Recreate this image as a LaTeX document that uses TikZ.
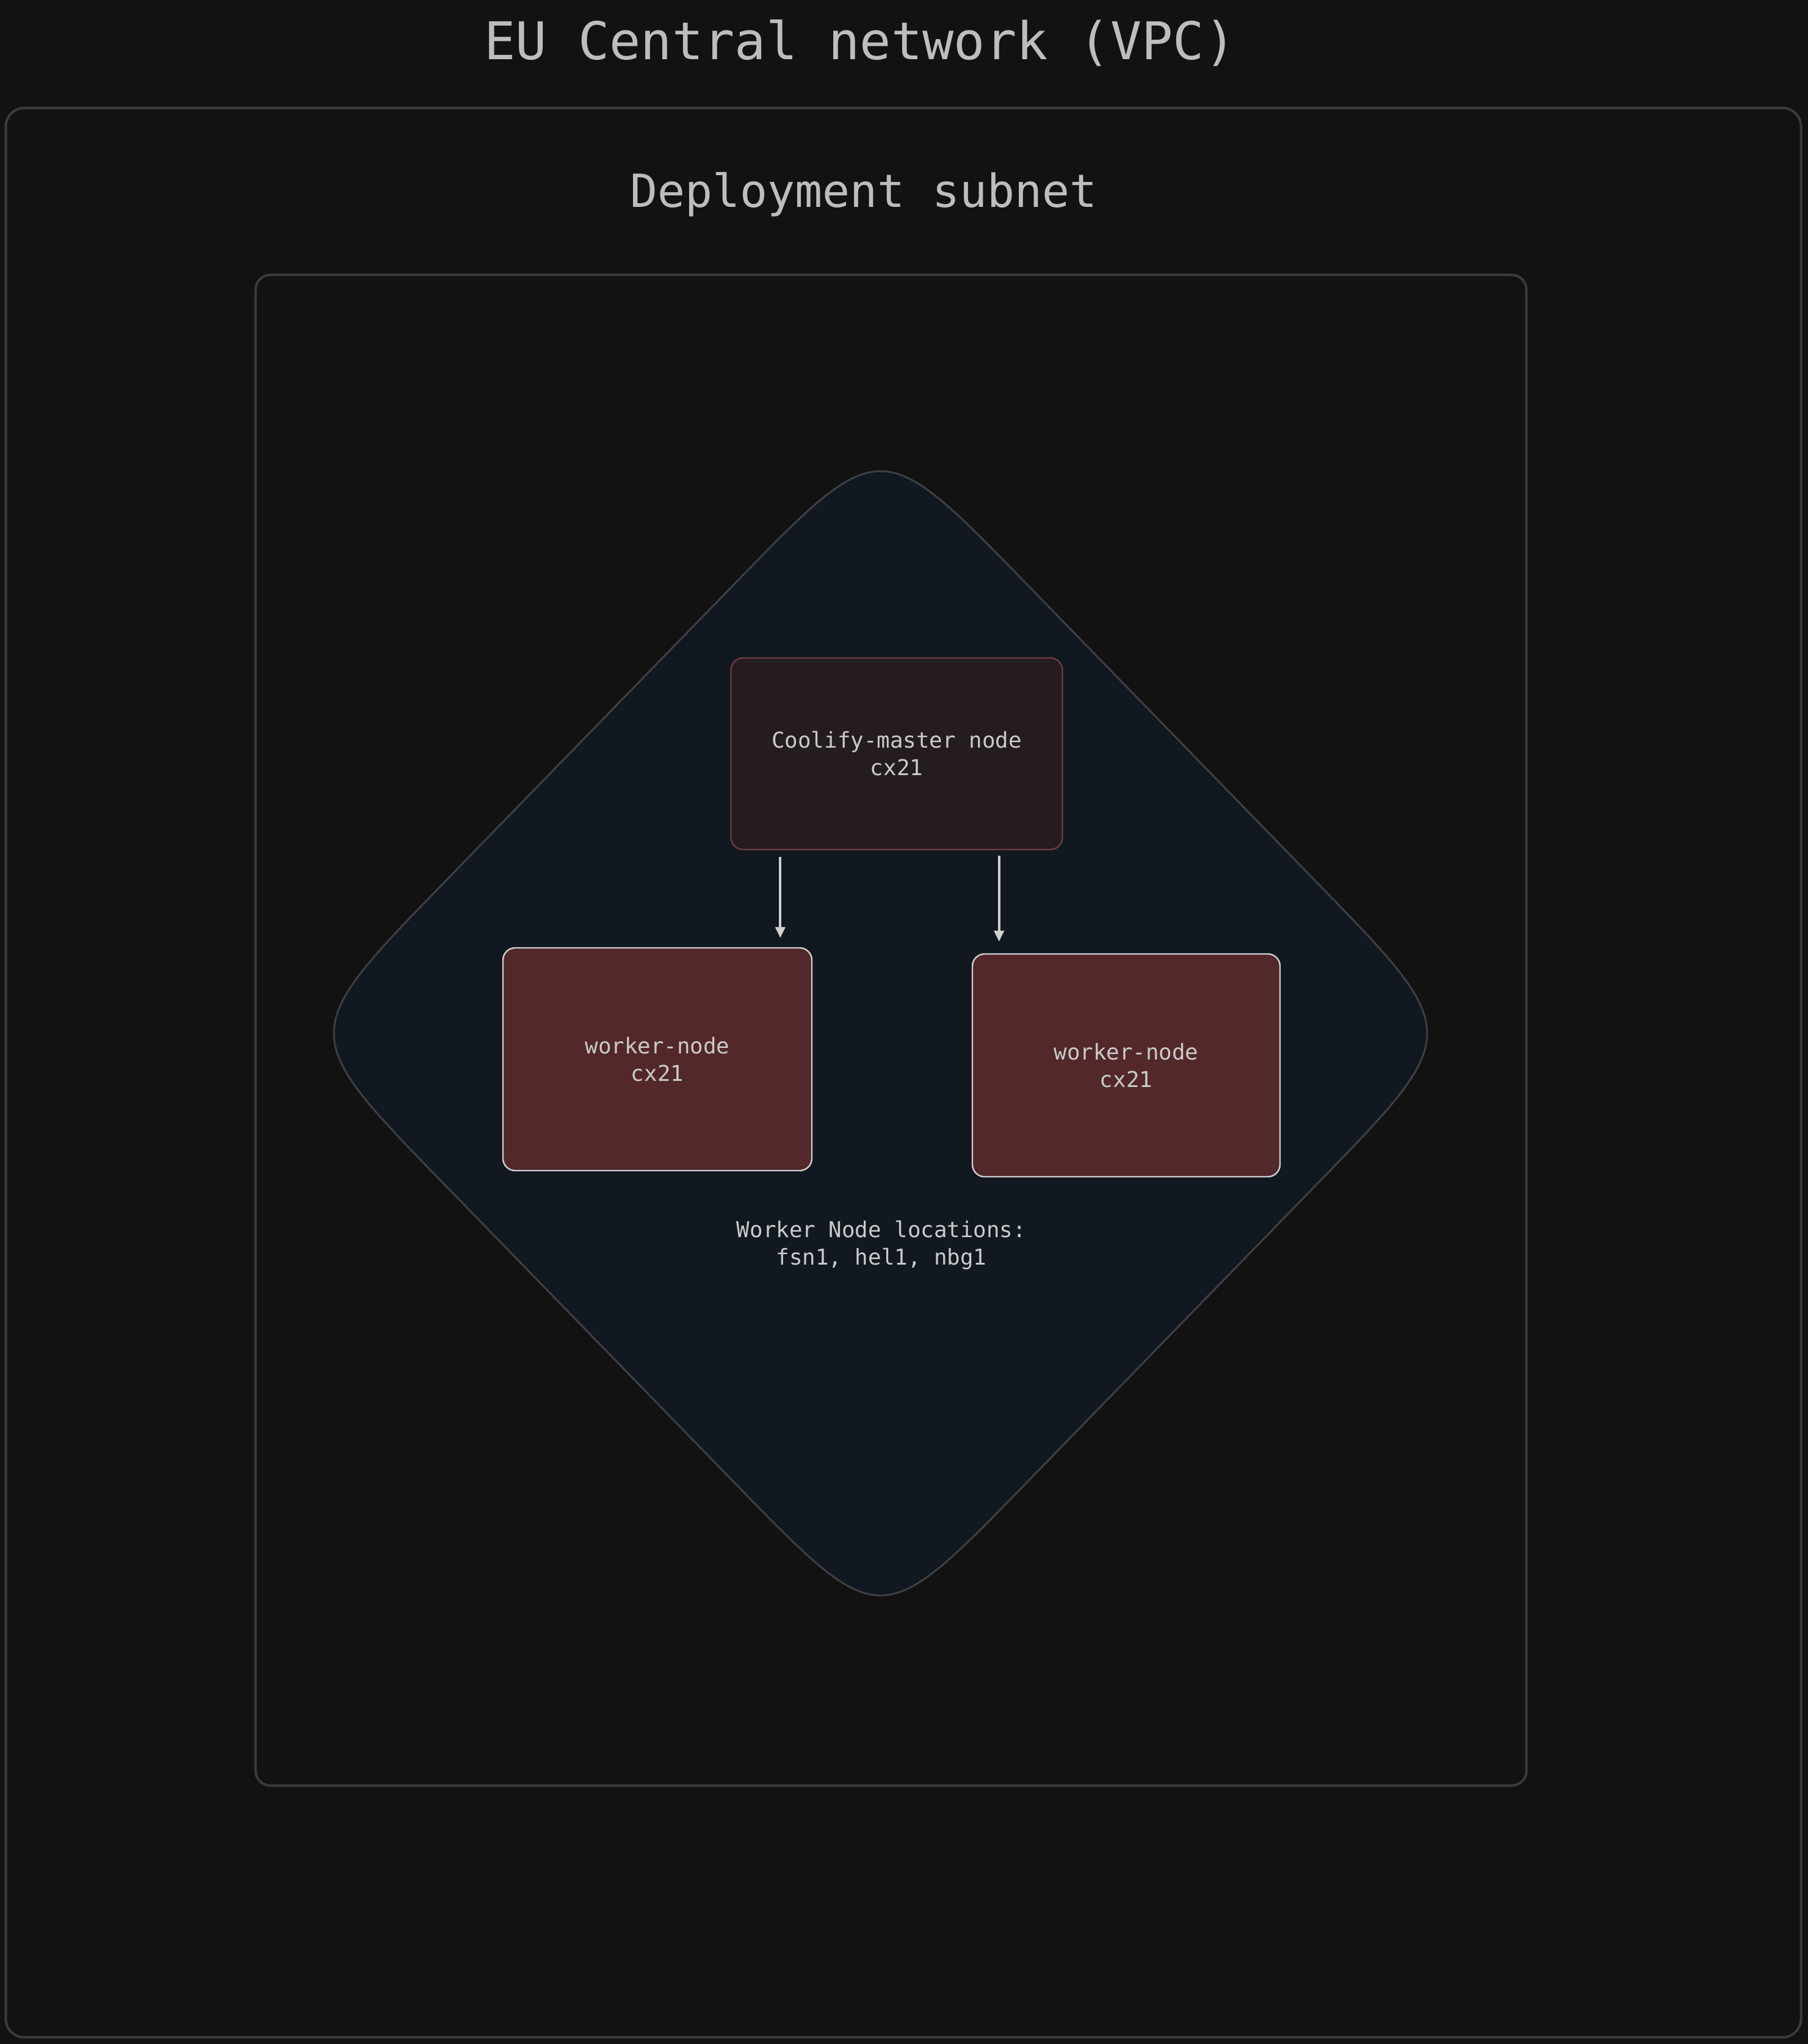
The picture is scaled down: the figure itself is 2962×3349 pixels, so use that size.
\documentclass[tikz,border=0pt]{standalone}
\usepackage{fontspec}
\setmonofont{DejaVu Sans Mono}
\usetikzlibrary{arrows.meta}

\definecolor{canvas}{HTML}{121212}
\definecolor{framegray}{HTML}{3B3B3D}
\definecolor{headgray}{HTML}{BDBDBD}
\definecolor{labelgray}{HTML}{CACACA}
\definecolor{zonefill}{HTML}{121820}
\definecolor{zoneline}{HTML}{3E3F43}
\definecolor{masterfill}{HTML}{251C22}
\definecolor{masterline}{HTML}{6A3C44}
\definecolor{workerfill}{HTML}{53282B}
\definecolor{workerline}{HTML}{CFCFCF}
\definecolor{arrowgray}{HTML}{D0D0D0}

\tikzset{
    frame/.style={rectangle, draw=framegray, line width=1pt, inner sep=0pt},
    heading/.style={text=headgray, font=\ttfamily\fontsize{21.3}{26}\selectfont},
    subheading/.style={text=headgray, font=\ttfamily\fontsize{18.7}{23}\selectfont},
    caption/.style={text=labelgray, align=center, font=\ttfamily\fontsize{8.95}{11.25}\selectfont},
    server/.style={caption, rectangle, rounded corners=5pt, line width=0.6pt, inner sep=0pt},
    zone/.style={draw=zoneline, fill=zonefill, line width=0.75pt},
    flow/.style={draw=arrowgray, line width=1pt, -{Triangle[width=4pt,length=4.5pt]}}
}

\begin{document}
\begin{tikzpicture}[x=0.25pt, y=-0.25pt]
    \fill[canvas] (0,0) rectangle (2962,3349);
    \useasboundingbox (0,0) rectangle (2962,3349);

    % network and subnet
    \node at (1409,98) [heading, anchor=base] (VpcTitle) {EU Central network (VPC)};
    \node at (1480,1757.5) [frame, rounded corners=7.5pt, minimum width=735.25pt, minimum height=790.25pt] (Vpc) {};
    \node at (1415,340) [subheading, anchor=base] (SubnetTitle) {Deployment subnet};
    \node at (1459.7,1688) [frame, rounded corners=6pt, minimum width=520.5pt, minimum height=618.75pt] (Subnet) {};

    % location zone (diamond with soft corners)
    \coordinate (ZoneN) at (1442.5,710.6);
    \coordinate (ZoneE) at (2397.7,1693);
    \coordinate (ZoneS) at (1442.5,2675.4);
    \coordinate (ZoneW) at (487.3,1693);
    \draw[zone] (1681.3,956.2) -- (2158.9,1447.4)
        .. controls (ZoneE) and (ZoneE) .. (2158.9,1938.6) -- (1681.3,2429.8)
        .. controls (ZoneS) and (ZoneS) .. (1203.7,2429.8) -- (726.1,1938.6)
        .. controls (ZoneW) and (ZoneW) .. (726.1,1447.4) -- (1203.7,956.2)
        .. controls (ZoneN) and (ZoneN) .. cycle;
    \node at (1444,2040) [caption] (ZoneLabel) {Worker Node locations:\\fsn1, hel1, nbg1};

    % servers
    \node at (1469,1235) [server, draw=masterline, fill=masterfill, minimum width=135.75pt, minimum height=78.5pt] (MasterNode) {Coolify-master node\\cx21};
    \node at (1077,1735.5) [server, draw=workerline, fill=workerfill, minimum width=126.5pt, minimum height=91.25pt] (WorkerOne) {worker-node\\cx21};
    \node at (1845,1745.5) [server, draw=workerline, fill=workerfill, minimum width=126pt, minimum height=91.25pt] (WorkerTwo) {worker-node\\cx21};

    \draw[flow] ([xshift=20.5pt, yshift=-2.75pt]MasterNode.south west) coordinate (FlowA) -- ([yshift=3.75pt]FlowA |- WorkerOne.north);
    \draw[flow] ([xshift=-26.25pt, yshift=-2.25pt]MasterNode.south east) coordinate (FlowB) -- ([yshift=4.75pt]FlowB |- WorkerTwo.north);
\end{tikzpicture}
\end{document}
